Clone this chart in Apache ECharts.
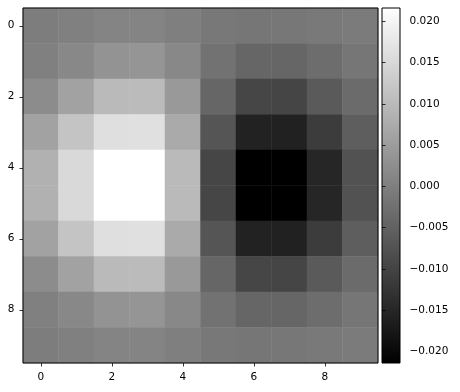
<!DOCTYPE html>
<html>
<head>
<meta charset="utf-8">
<script src="https://cdn.jsdelivr.net/npm/echarts@6/dist/echarts.min.js"></script>
<style>
html,body{margin:0;padding:0;background:#fff;}
#chart{width:460px;height:392px;}
</style>
</head>
<body>
<div id="chart"></div>
<script>
// Column and row indices
const cols = ['0','1','2','3','4','5','6','7','8','9'];
const rows = ['0','1','2','3','4','5','6','7','8','9'];
// Cell values, one array per row (read from the gray levels)
const row0 = [-0.0003, 0.0002, 0.0009, 0.0009, 0.0000, -0.0012, -0.0015, -0.0013, -0.0010, -0.0007];
const row1 = [0.0002, 0.0015, 0.0034, 0.0037, 0.0015, -0.0022, -0.0042, -0.0042, -0.0030, -0.0015];
const row2 = [0.0022, 0.0059, 0.0100, 0.0101, 0.0044, -0.0042, -0.0096, -0.0098, -0.0062, -0.0034];
const row3 = [0.0059, 0.0116, 0.0162, 0.0164, 0.0073, -0.0071, -0.0157, -0.0158, -0.0113, -0.0056];
const row4 = [0.0084, 0.0152, 0.0216, 0.0216, 0.0100, -0.0096, -0.0214, -0.0214, -0.0150, -0.0076];
const row5 = [0.0084, 0.0152, 0.0216, 0.0216, 0.0100, -0.0096, -0.0214, -0.0214, -0.0150, -0.0076];
const row6 = [0.0059, 0.0116, 0.0162, 0.0164, 0.0073, -0.0071, -0.0157, -0.0158, -0.0113, -0.0056];
const row7 = [0.0022, 0.0059, 0.0100, 0.0101, 0.0044, -0.0042, -0.0096, -0.0098, -0.0062, -0.0034];
const row8 = [0.0002, 0.0015, 0.0034, 0.0037, 0.0015, -0.0022, -0.0042, -0.0042, -0.0030, -0.0015];
const row9 = [-0.0003, 0.0002, 0.0009, 0.0009, 0.0000, -0.0012, -0.0015, -0.0013, -0.0010, -0.0007];
const grid = [row0,row1,row2,row3,row4,row5,row6,row7,row8,row9];
// Colour scale limits and colorbar tick labels
const vmin = -0.0214, vmax = 0.0216;
const cbarTicks = [-0.020, -0.015, -0.010, -0.005, 0.000, 0.005, 0.010, 0.015, 0.020];

const data = [];
grid.forEach((r, i) => r.forEach((v, j) => data.push([j, i, v])));

const font = 'DejaVu Sans';
const fs = 10.5;
const chart = echarts.init(document.getElementById('chart'), null, {renderer: 'canvas'});
const fmt = v => (v < 0 ? '\u2212' : '') + Math.abs(v).toFixed(3);

chart.setOption({
  backgroundColor: '#fff',
  animation: false,
  grid: [
    {left: 23, top: 8, width: 355, height: 355, show: true, borderColor: '#000', borderWidth: 1, backgroundColor: 'transparent', z: 10},
    {left: 382, top: 8, width: 18, height: 355, show: true, borderColor: '#000', borderWidth: 1,
     backgroundColor: new echarts.graphic.LinearGradient(0, 0, 0, 1, [{offset: 0, color: '#ffffff'}, {offset: 1, color: '#000000'}])}
  ],
  xAxis: [
    {type: 'category', data: cols, gridIndex: 0, position: 'bottom',
     axisLine: {show: false},
     axisTick: {show: true, alignWithLabel: true, length: 3.5, lineStyle: {color: '#000', width: 0.8}, interval: 1},
     axisLabel: {interval: 1, margin: 9, fontFamily: font, fontSize: fs, color: '#000'},
     splitLine: {show: false}},
    {type: 'value', gridIndex: 1, show: false, min: 0, max: 1}
  ],
  yAxis: [
    {type: 'category', data: rows, gridIndex: 0, inverse: true,
     axisLine: {show: false},
     axisTick: {show: true, alignWithLabel: true, length: 3.5, lineStyle: {color: '#000', width: 0.8}, interval: 1},
     axisLabel: {interval: 1, margin: 8.5, fontFamily: font, fontSize: fs, color: '#000'},
     splitLine: {show: false}},
    {type: 'value', gridIndex: 1, position: 'right', min: vmin, max: vmax,
     axisLine: {show: false},
     axisTick: {show: true, length: 3.5, customValues: cbarTicks, lineStyle: {color: '#000', width: 0.8}},
     axisLabel: {show: true, customValues: cbarTicks, formatter: fmt, margin: 9.5, fontFamily: font, fontSize: fs, color: '#000'},
     splitLine: {show: false}}
  ],
  visualMap: {
    show: false, type: 'continuous', min: vmin, max: vmax, seriesIndex: 0, dimension: 2,
    inRange: {color: ['#000000', '#ffffff']}
  },
  series: [
    {type: 'heatmap', xAxisIndex: 0, yAxisIndex: 0, data: data, emphasis: {disabled: true}, itemStyle: {borderWidth: 0}}
  ]
});
</script>
</body>
</html>
